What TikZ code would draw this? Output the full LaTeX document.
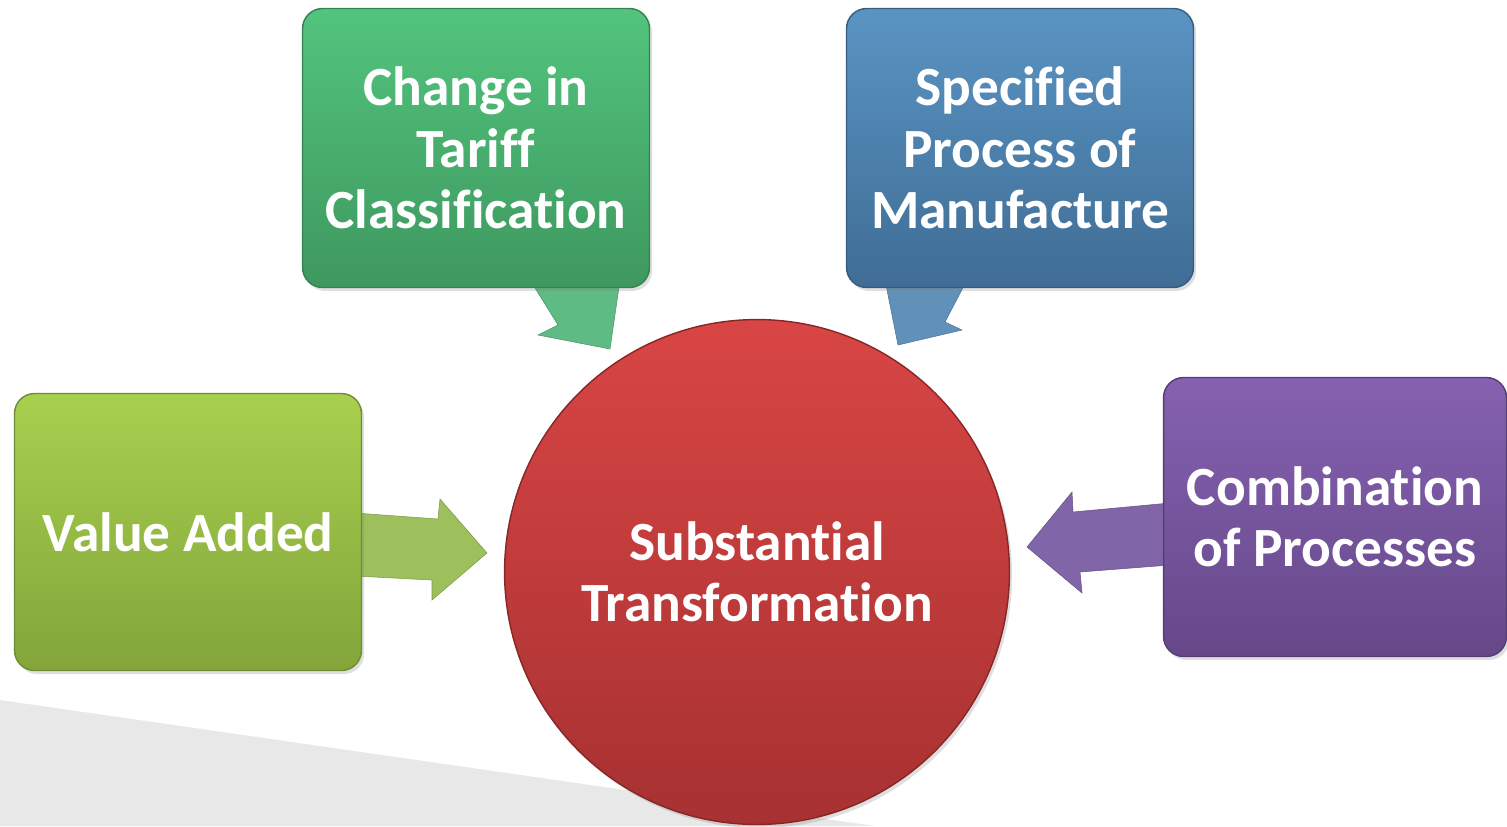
\documentclass[tikz,border=0pt]{standalone}
\usepackage{fontspec}
\setmainfont{Carlito}[Ligatures = NoCommon]
\usetikzlibrary{shadows}

\definecolor{tariffTop}{HTML}{52C47D}
\definecolor{tariffBot}{HTML}{3E985F}
\definecolor{tariffArr}{HTML}{5EBB84}
\definecolor{procTop}{HTML}{5A94C3}
\definecolor{procBot}{HTML}{3F6D95}
\definecolor{procArr}{HTML}{6191B9}
\definecolor{valueTop}{HTML}{A8D04F}
\definecolor{valueBot}{HTML}{83A53A}
\definecolor{valueArr}{HTML}{9DBF5C}
\definecolor{comboTop}{HTML}{8561B1}
\definecolor{comboBot}{HTML}{664889}
\definecolor{comboArr}{HTML}{8066A8}
\definecolor{stTop}{HTML}{D94545}
\definecolor{stBot}{HTML}{A73131}

\begin{document}
\begin{tikzpicture}[
    x = 0.02cm,
    y = -0.02cm,
    font = \bfseries\fontsize{31.5}{35}\selectfont,
    box/.style = {
      rounded corners = 0.4cm,
      align = center,
      text = white,
      minimum width = 6.94cm,
      minimum height = 5.58cm,
      line width = 0.8pt,
      drop shadow = {opacity = 0.25, shadow xshift = 1.5pt,
                     shadow yshift = -2pt}
    },
    blockarrow/.style = {draw = #1!80!black, fill = #1, line width = 0.3pt}
  ]
  \useasboundingbox (0,0) rectangle (1507,826);
  \fill[black!9] (0,700) -- (875,826) -- (0,826) -- cycle;

  % pointers and arrows go under the boxes
  \draw[blockarrow = tariffArr] (530,280) -- (558,325) -- (538,335)
    -- (610,349) -- (620,280) -- cycle;
  \draw[blockarrow = procArr] (885,280) -- (898,345) -- (962,330)
    -- (945,322) -- (967,280) -- cycle;
  \draw[blockarrow = valueArr] (355,513) -- (438,519) -- (440,499)
    -- (487,553) -- (432,600) -- (432,580) -- (355,576) -- cycle;
  \draw[blockarrow = comboArr] (1027,547) -- (1072,492) -- (1073,512)
    -- (1170,503) -- (1170,565) -- (1080,572) -- (1082,593) -- cycle;

  \node[box, top color = tariffTop, bottom color = tariffBot,
        draw = tariffBot!85!black] (tariff) at (476,148)
    {Change in\\Tariff\\Classification};
  \node[box, top color = procTop, bottom color = procBot,
        draw = procBot!85!black] (process) at (1020,148)
    {Specified\\Process of\\Manufacture};
  \node[box, top color = valueTop, bottom color = valueBot,
        draw = valueBot!85!black, minimum height = 5.54cm] (value)
    at (188,532) {Value Added};
  \node[box, top color = comboTop, bottom color = comboBot,
        draw = comboBot!85!black, minimum width = 6.86cm] (combo)
    at (1335,517) {Combination\\of Processes};

  \node[circle, minimum size = 10.1cm, top color = stTop,
        bottom color = stBot, draw = stBot!80!black, line width = 0.8pt,
        text = white, align = center,
        drop shadow = {opacity = 0.25, shadow xshift = 1.5pt,
                       shadow yshift = -2pt}] (st) at (757,572)
    {Substantial\\Transformation};
\end{tikzpicture}
\end{document}
